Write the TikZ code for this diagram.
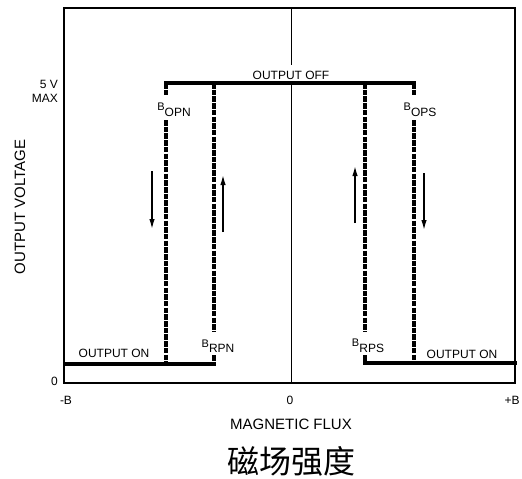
\documentclass[tikz,border=0pt]{standalone}
\usepackage{fontspec}
\setmainfont{Liberation Sans}
\newfontfamily\cjk{Noto Sans CJK SC}
\usetikzlibrary{arrows.meta}
\newcommand{\smallb}{{\fontsize{11}{13}\selectfont B}}
\begin{document}
\begin{tikzpicture}[x=1pt,y=-1pt]
        % Define styles for shapes
        \tikzstyle{frame} = [draw, line width=1.8pt]
        \tikzstyle{axis} = [draw, line width=1.5pt]
        \tikzstyle{level} = [draw, line width=4pt]
        \tikzstyle{switch} = [draw, line width=4pt, dash pattern=on 5.5pt off 1.2pt]
        \tikzstyle{flow} = [draw, line width=1.4pt, -{Latex[length=10pt,width=5.5pt]}]
        \tikzstyle{txt} = [inner sep=0pt, font=\fontsize{12}{14}\selectfont]
        \tikzstyle{title} = [inner sep=0pt, font=\fontsize{15}{17}\selectfont]
        \useasboundingbox (0,0) rectangle (522,479);

        % Draw shapes
        \draw[frame] (64,8) rectangle (515,383);
        \node[txt, outer sep=6pt] (off) at (291,75) {OUTPUT OFF};
        \draw[axis] (291.5,8) -- (off.north -| 291.5,0);
        \draw[axis] (off.south -| 291.5,0) -- (291.5,383);

        % Output levels
        \draw[level] (164,83) -- (416,83);
        \draw[level] (64,364) -- (216,364);
        \draw[level] (363,363) -- (517,363);

        % Switch points
        \draw[switch] (166,83) -- (166,96) (166,120) -- (166,362);
        \draw[switch] (214,83) -- (214,331) (214,355) -- (214,364);
        \draw[switch] (365,83) -- (365,331) (365,355) -- (365,363);
        \draw[switch] (414,83) -- (414,96) (414,120) -- (414,362);
        \node[txt] (opn) at (174,110) {\smallb\raisebox{-5.5pt}{OPN}};
        \node[txt] (ops) at (420,110) {\smallb\raisebox{-5.5pt}{OPS}};
        \node[txt] (rpn) at (218,346) {\smallb\raisebox{-5.5pt}{RPN}};
        \node[txt] (rps) at (368,346) {\smallb\raisebox{-5.5pt}{RPS}};

        % Direction arrows
        \draw[flow] (152,171) -- (152,229);
        \draw[flow] (223,232) -- (223,175);
        \draw[flow] (355,223) -- (355,166);
        \draw[flow] (424,173) -- (424,230);

        % Labels
        \node[txt, anchor=east] (five) at (58,84) {5 V};
        \node[txt, anchor=east] (max) at (58,98) {MAX};
        \node[txt, anchor=east] (zero) at (58,381) {0};
        \node[txt] (onl) at (114,353) {OUTPUT ON};
        \node[txt] (onr) at (462,354) {OUTPUT ON};
        \node[txt] (minb) at (66,400) {-B};
        \node[txt] (mid) at (290,400) {0};
        \node[txt] (plusb) at (512,400) {+B};
        \node[title, rotate=90] (volt) at (20,207) {OUTPUT VOLTAGE};
        \node[title] (flux) at (291,424) {MAGNETIC FLUX};
        \node[inner sep=0pt, font=\cjk\fontsize{32}{34}\selectfont] (cn) at (291,461) {磁场强度};
    \end{tikzpicture}
\end{document}
